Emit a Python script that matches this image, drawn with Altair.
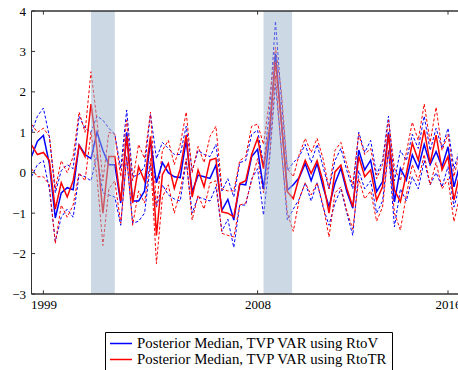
import altair as alt
import pandas as pd

# Quarterly observations, 1998Q3 .. 2016Q3
start_year = 1998.5
n_quarters = 73
quarters = [start_year + 0.25 * i for i in range(n_quarters)]

blue_median = [0.40, 0.78, 0.92, 0.22, -1.12, -0.50, -0.37, -0.42, 0.68, 0.45,
               0.35, 1.00, 0.55, 0.20, 0.20, -0.75, 1.00, -0.70, -0.70, -0.45,
               0.80, -0.25, 0.25, 0.00, -0.10, -0.12, 0.80, -0.47, -0.06, -0.10,
               -0.14, 0.19, -0.93, -0.66, -1.17, -0.28, -0.30, 0.40, 0.58, -0.40,
               0.90, 2.95, 1.25, -0.43, -0.30, -0.12, 0.23, -0.20, 0.23, -0.35,
               -0.84, -0.26, 0.11, -0.47, -0.88, 0.56, 0.07, 0.31, -0.47, -0.22,
               1.00, -0.72, 0.11, -0.18, 0.44, 0.11, 0.70, 0.20, 0.52, 0.15,
               0.64, -0.35, 0.20]
blue_upper = [1.00, 1.40, 1.60, 0.90, -0.50, 0.05, 0.20, 0.10, 1.40, 1.10,
              1.00, 1.40, 1.30, 1.10, 0.95, 0.10, 1.55, -0.10, -0.05, 0.15,
              1.45, 0.35, 0.75, 0.60, 0.45, 0.45, 1.15, 0.05, 0.55, 0.45,
              0.40, 0.70, -0.45, -0.15, -0.60, 0.25, 0.30, 0.95, 1.05, 0.20,
              1.50, 3.75, 1.80, 0.05, 0.25, 0.40, 0.70, 0.25, 0.70, 0.15,
              -0.40, 0.30, 0.60, 0.05, -0.40, 1.00, 0.50, 0.80, -0.05, 0.30,
              1.40, -0.20, 0.55, 0.30, 0.95, 0.60, 1.40, 0.55, 1.10, 0.60,
              1.10, 0.10, 0.60]
blue_lower = [-0.10, 0.20, 0.30, -0.40, -1.70, -1.10, -0.90, -1.10, -0.05, -0.10,
              -0.20, 0.45, -0.50, -0.55, -0.60, -1.30, 0.40, -1.25, -1.20, -1.00,
              0.20, -0.85, -0.30, -0.55, -0.65, -0.70, 0.30, -1.00, -0.60, -0.65,
              -0.70, -0.35, -1.45, -1.15, -1.85, -0.80, -0.80, -0.15, 0.10, -1.05,
              0.30, 2.20, 0.60, -1.17, -0.90, -0.65, -0.25, -0.70, -0.25, -0.85,
              -1.30, -0.75, -0.40, -1.00, -1.55, 0.05, -0.40, -0.20, -1.00, -0.70,
              0.55, -1.34, -0.40, -0.70, -0.10, -0.40, 0.30, -0.30, 0.00, -0.35,
              0.15, -0.85, -0.30]
red_median = [0.69, 0.45, 0.50, 0.30, -0.90, -0.25, -0.60, -0.20, 0.68, 0.40,
              1.70, 0.60, -1.00, 0.40, 0.40, -0.70, 0.90, -0.75, 0.15, -0.20,
              0.90, -1.55, -0.05, 0.23, -0.39, 0.10, 0.93, -0.60, 0.07, -0.35,
              0.31, 0.36, -0.97, -1.00, -1.09, -0.27, -0.20, 0.45, 0.85, 0.10,
              1.10, 2.75, 1.25, -0.47, -0.64, -0.10, 0.31, -0.02, 0.30, -0.22,
              -1.00, 0.02, 0.19, -0.39, -0.84, 0.40, -0.10, 0.07, -0.68, -0.35,
              0.95, -0.43, -0.72, -0.02, 0.73, 0.31, 1.06, 0.23, 0.93, 0.07,
              0.40, -0.68, 0.00]
red_upper = [1.20, 1.00, 1.10, 0.90, -0.40, 0.30, 0.00, 0.40, 1.50, 1.00,
             2.50, 1.30, -0.20, 1.00, 0.95, -0.10, 1.30, -0.20, 0.70, 0.35,
             1.50, -0.85, 0.55, 0.80, 0.20, 0.70, 1.50, 0.00, 0.65, 0.25,
             0.90, 1.15, -0.40, -0.45, -0.45, 0.30, 0.40, 1.15, 1.20, 0.70,
             1.80, 3.10, 2.00, 0.10, -0.10, 0.45, 0.85, 0.50, 0.85, 0.35,
             -0.40, 0.55, 0.75, 0.20, -0.30, 0.95, 0.45, 0.60, -0.15, 0.20,
             1.30, 0.10, -0.20, 0.50, 1.25, 0.80, 1.70, 0.75, 1.62, 0.55,
             0.95, -0.10, 0.55]
red_lower = [0.10, -0.10, -0.10, -0.30, -1.75, -0.80, -1.10, -0.80, 0.00, -0.20,
             1.00, -0.10, -1.80, -0.40, -0.20, -1.25, 0.40, -1.30, -0.45, -0.75,
             0.35, -2.25, -0.60, -0.30, -1.00, -0.45, 0.35, -1.17, -0.55, -0.90,
             -0.25, -0.20, -1.50, -1.55, -1.59, -0.80, -0.75, -0.20, 0.35, -0.50,
             0.40, 2.40, 0.55, -1.00, -1.45, -0.65, -0.25, -0.55, -0.25, -0.80,
             -1.59, -0.50, -0.35, -0.95, -1.40, -0.15, -0.65, -0.45, -1.20, -0.85,
             0.55, -1.00, -1.42, -0.55, 0.20, -0.20, 0.45, -0.30, 0.25, -0.40,
             -0.15, -1.21, -0.55]

recession_start = [2001.0, 2008.25]
recession_end = [2002.0, 2009.45]

x_ticks = [1999, 2008, 2016]
y_ticks = [-3, -2, -1, 0, 1, 2, 3, 4]
x_domain = [1998.5, 2016.42]
y_domain = [-3, 4]

labels = ["Posterior Median, TVP VAR using RtoV",
          "Posterior Median, TVP VAR using RtoTR"]
BLUE = "#0000ff"
RED = "#ff0000"
FONT = "Liberation Serif"

med = pd.DataFrame(
    {"t": quarters * 2,
     "v": blue_median + red_median,
     "series": [labels[0]] * n_quarters + [labels[1]] * n_quarters})
blue_bands = pd.DataFrame(
    {"t": quarters * 2, "v": blue_upper + blue_lower,
     "band": ["u"] * n_quarters + ["l"] * n_quarters})
red_bands = pd.DataFrame(
    {"t": quarters * 2, "v": red_upper + red_lower,
     "band": ["u"] * n_quarters + ["l"] * n_quarters})
rec = pd.DataFrame({"s": recession_start, "e": recession_end})
xt = pd.DataFrame({"t": x_ticks})
yt = pd.DataFrame({"v": y_ticks})

xscale = alt.Scale(domain=x_domain, nice=False, zero=False)
yscale = alt.Scale(domain=y_domain, nice=False, zero=False)

x_axis = alt.Axis(values=x_ticks, format="d", title=None, grid=False, domain=False,
                  ticks=False, tickSize=0, labelPadding=4, labelFont=FONT,
                  labelFontSize=13, labelColor="black", labelFontWeight="normal")
y_axis = alt.Axis(values=y_ticks, format="d", title=None, grid=False, domain=False,
                  ticks=False, tickSize=0, labelPadding=6, labelFont=FONT,
                  labelFontSize=13, labelColor="black", labelFontWeight="normal")

X = alt.X("t:Q", scale=xscale, axis=x_axis, title=None)
Y = alt.Y("v:Q", scale=yscale, axis=y_axis, title=None)

blue_band_layer = alt.Chart(blue_bands).mark_line(
    clip=True, color=BLUE, strokeWidth=1, strokeDash=[3, 2]
).encode(x=X, y=Y, detail="band:N")

red_band_layer = alt.Chart(red_bands).mark_line(
    clip=True, color=RED, strokeWidth=1, strokeDash=[3, 2]
).encode(x=X, y=Y, detail="band:N")

median_layer = alt.Chart(med).mark_line(clip=True, strokeWidth=1.5).encode(
    x=X,
    y=Y,
    color=alt.Color(
        "series:N",
        scale=alt.Scale(domain=labels, range=[BLUE, RED]),
        sort=labels,
        legend=alt.Legend(
            orient="none", legendX=73.5, legendY=321, title=None,
            symbolType="stroke", symbolSize=484, symbolStrokeWidth=1.5,
            labelFont=FONT, labelFontSize=14.8, labelColor="black",
            labelOffset=4, strokeColor="black", fillColor="white",
            padding=4, rowPadding=0, clipHeight=15, labelLimit=400,
        ),
    ),
)

shade = alt.Chart(rec).mark_rect(color="#9bb2cb", opacity=0.5).encode(
    x=alt.X("s:Q", scale=xscale, axis=x_axis, title=None),
    x2="e:Q",
    y=alt.YDatum(4, axis=y_axis, title=None),
    y2=alt.datum(-3),
)

frame_color = "#333333"
top_line = alt.Chart(rec).mark_rule(color=frame_color, strokeWidth=1).encode(
    y=alt.YDatum(4, axis=y_axis, title=None))
bottom_line = alt.Chart(rec).mark_rule(color=frame_color, strokeWidth=1).encode(
    y=alt.YDatum(-3, axis=y_axis, title=None))
left_line = alt.Chart(rec).mark_rule(color=frame_color, strokeWidth=1).encode(
    x=alt.XDatum(x_domain[0], axis=x_axis, title=None))

bottom_ticks = alt.Chart(xt).mark_rule(color=frame_color).encode(
    x=X, y=alt.YDatum(-3, axis=y_axis, title=None), y2=alt.datum(-2.91))
top_ticks = alt.Chart(xt).mark_rule(color=frame_color).encode(
    x=X, y=alt.YDatum(4, axis=y_axis, title=None), y2=alt.datum(3.91))
left_ticks = alt.Chart(yt).mark_rule(color=frame_color).encode(
    y=Y, x=alt.XDatum(x_domain[0], axis=x_axis, title=None),
    x2=alt.datum(x_domain[0] + 0.15))

chart = alt.layer(
    blue_band_layer, red_band_layer, median_layer, shade,
    top_line, bottom_line, left_line, bottom_ticks, top_ticks, left_ticks,
).properties(
    width=426.5, height=283,
    autosize=alt.AutoSizeParams(type="none"),
    padding={"left": 31.5, "top": 11, "right": 0, "bottom": 76},
    background="white",
).configure_view(stroke=None)

chart.save("out.html", embed_options={"renderer": "svg", "actions": False})
